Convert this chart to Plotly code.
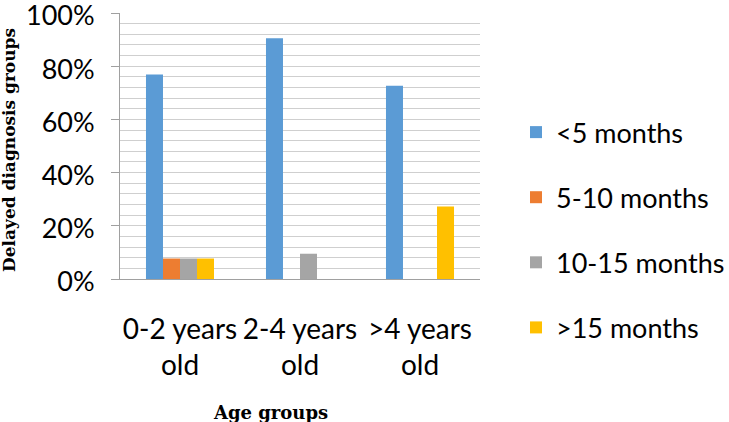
import plotly.graph_objects as go

categories = ["0-2 years<br>old", "2-4 years<br>old", ">4 years<br>old"]
series_names = ["<5 months", "5-10 months", "10-15 months", ">15 months"]
lt5 = [0.769, 0.905, 0.727]
m5_10 = [0.077, 0.0, 0.0]
m10_15 = [0.077, 0.095, 0.0]
gt15 = [0.077, 0.0, 0.273]
y_ticks = [0, 0.2, 0.4, 0.6, 0.8, 1.0]
colors = ["#5B9BD5", "#ED7D31", "#A5A5A5", "#FFC000"]

FONT = "Lato"
fig = go.Figure()
for i, (name, vals) in enumerate(zip(series_names, [lt5, m5_10, m10_15, gt15])):
    fig.add_trace(go.Bar(x=categories, y=vals, name=name, marker_color=colors[i],
                         legendgroup=name, marker_line_width=0))

fig.update_layout(
    width=729, height=422,
    margin=dict(l=120, r=249, t=13, b=143, autoexpand=False),
    paper_bgcolor="white", plot_bgcolor="white",
    barmode="group", bargap=0.433, bargroupgap=0,
    font=dict(family=FONT, size=27, color="black"),
    legend=dict(x=1.10, xanchor="left", y=0.184, yanchor="middle",
                traceorder="grouped", tracegroupgap=27,
                font=dict(family=FONT, size=27, color="black")),
    showlegend=True,
)
fig.update_xaxes(
    automargin=False,
    showline=True, linecolor="#a0a0a0", linewidth=1, tickangle=0,
    ticks="", ticklabelstandoff=25, showgrid=False,
    tickfont=dict(family=FONT, size=28, color="black"),
)
fig.update_yaxes(
    automargin=False, ticklabeloverflow="allow",
    range=[0, 1.0001], tickvals=y_ticks, tickformat=".0%",
    showline=True, linecolor="#a0a0a0", linewidth=1,
    ticks="outside", ticklen=8, tickcolor="#a0a0a0",
    showgrid=True, gridcolor="#cfcfcf", gridwidth=1,
    minor=dict(dtick=0.04, showgrid=True, gridcolor="#cfcfcf", gridwidth=1),
    zeroline=False, ticklabelstandoff=11, ticklabelshift=3,
    tickfont=dict(family=FONT, size=27, color="black"),
)
fig.add_annotation(text="<b>Age groups</b>",
                   x=(270 - 120) / 360, y=(279 - 412) / 266, xref="paper", yref="paper",
                   xanchor="center", yanchor="middle", showarrow=False,
                   font=dict(family="DejaVu Serif", size=18, color="black"))
fig.add_annotation(text="<b>Delayed diagnosis groups</b>", textangle=-90,
                   x=(9 - 120) / 360, y=(279 - 150) / 266, xref="paper", yref="paper",
                   xanchor="center", yanchor="middle", showarrow=False,
                   font=dict(family="DejaVu Serif", size=17, color="black"))

fig.write_html("out.html", config={"displayModeBar": False},
               post_script="document.body.style.margin='0';document.body.style.overflow='hidden';")
